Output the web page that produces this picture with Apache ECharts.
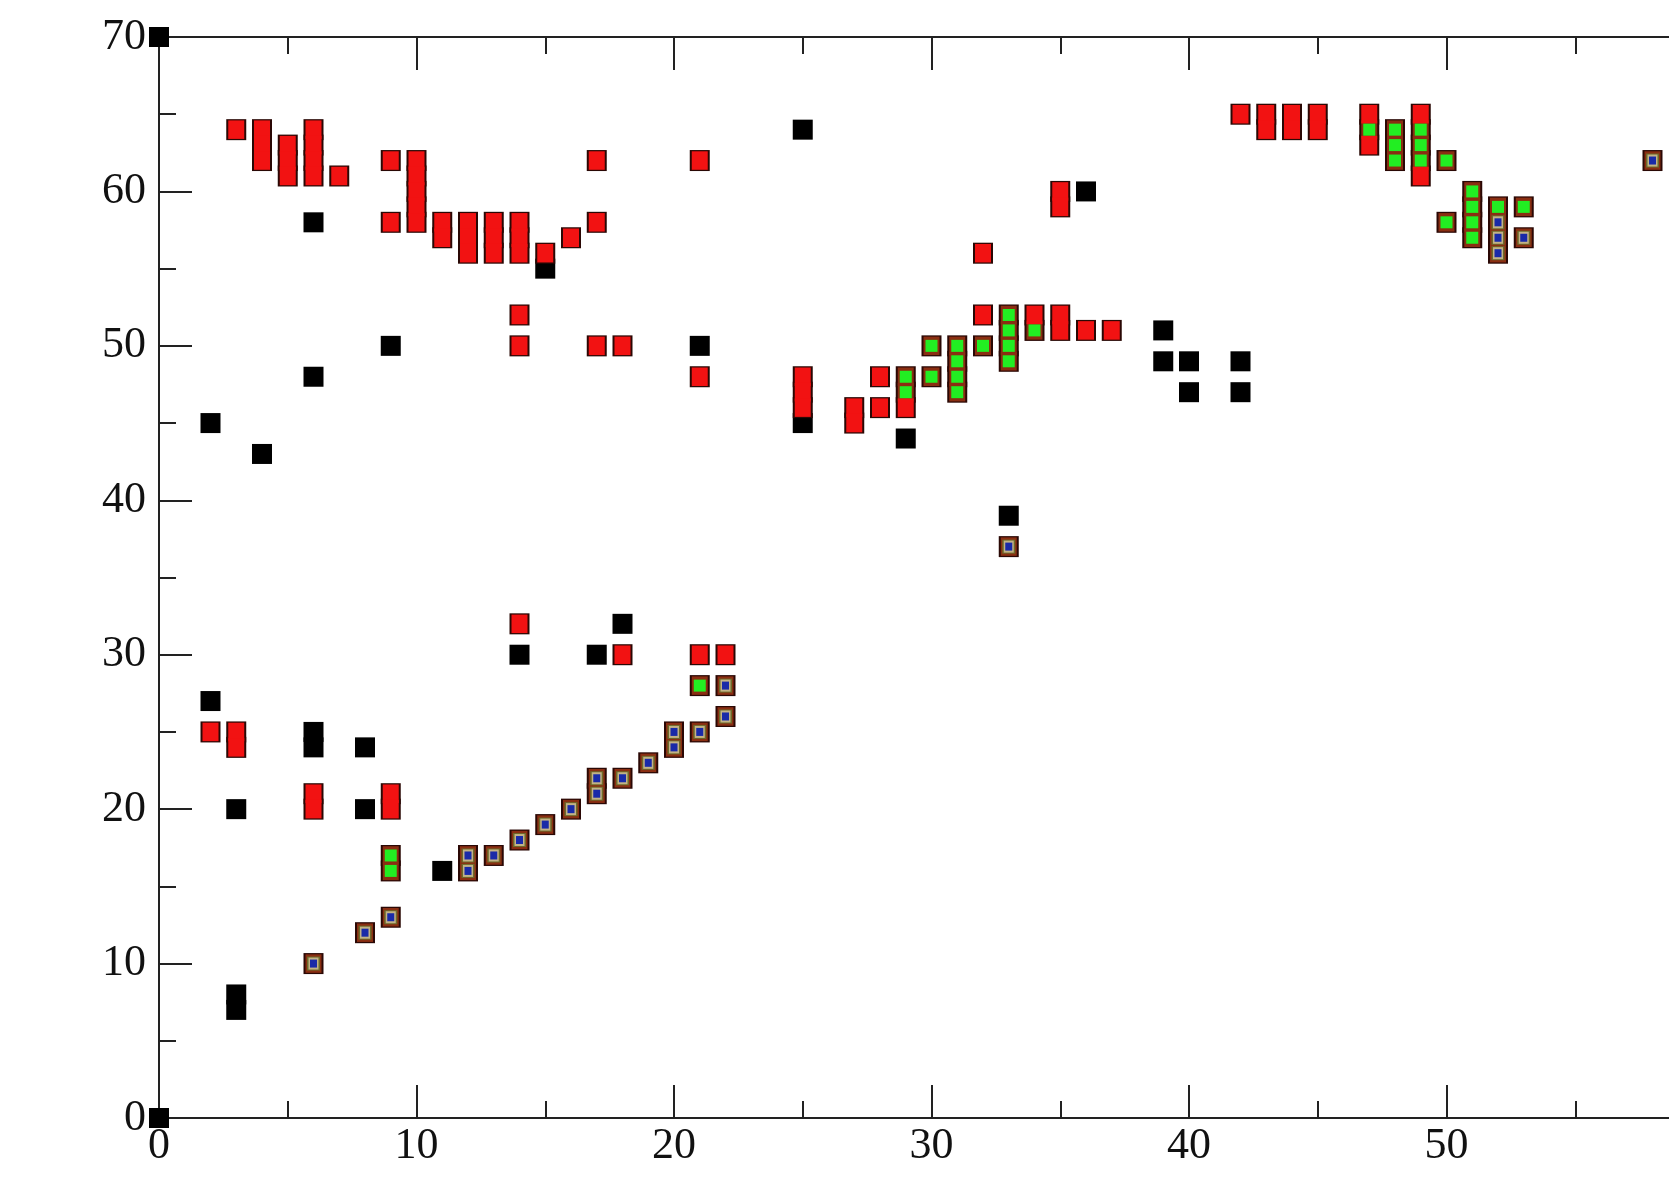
<!DOCTYPE html>
<html>
<head>
<meta charset="utf-8">
<script src="https://cdn.jsdelivr.net/npm/echarts@6/dist/echarts.min.js"></script>
<style>
html,body{margin:0;padding:0;background:#fff;}
#chart{width:1669px;height:1184px;}
</style>
</head>
<body>
<div id="chart"></div>
<script>
// ---- data (x = residue i, y = residue j) ----
const xTicks = [0, 10, 20, 30, 40, 50, 60];
const yTicks = [0, 10, 20, 30, 40, 50, 60, 70];

const blackPts = [
  [0,70],[0,0],
  [2,45],[2,27],
  [3,20],[3,8],[3,7],
  [4,43],
  [6,58],[6,48],[6,25],[6,24],
  [8,24],[8,20],
  [9,50],
  [11,16],
  [14,30],
  [15,55],
  [17,30],
  [18,32],
  [21,50],
  [25,64],[25,45],
  [29,44],
  [33,39],
  [36,60],
  [39,51],[39,49],
  [40,49],[40,47],
  [42,49],[42,47]
];

const redPts = [
  [2,25],
  [3,64],[3,25],[3,24],
  [4,64],[4,63],[4,62],
  [5,63],[5,62],[5,61],
  [6,64],[6,63],[6,62],[6,61],[6,21],[6,20],
  [7,61],
  [9,62],[9,58],[9,21],[9,20],
  [10,62],[10,61],[10,60],[10,59],[10,58],
  [11,58],[11,57],
  [12,58],[12,57],[12,56],
  [13,58],[13,57],[13,56],
  [14,58],[14,57],[14,56],[14,52],[14,50],[14,32],
  [15,56],
  [16,57],
  [17,62],[17,58],[17,50],
  [18,50],[18,30],
  [21,62],[21,48],[21,30],
  [22,30],
  [25,48],[25,47],[25,46],
  [27,46],[27,45],
  [28,48],[28,46],
  [29,46],
  [32,56],[32,52],
  [34,52],
  [35,60],[35,59],[35,52],[35,51],
  [36,51],
  [37,51],
  [42,65],
  [43,65],[43,64],
  [44,65],[44,64],
  [45,65],[45,64],
  [47,65],[47,63],
  [49,65],[49,61]
];

const greenPts = [
  [9,17],[9,16],
  [21,28],
  [29,48],[29,47],
  [30,50],[30,48],
  [31,50],[31,49],[31,48],[31,47],
  [32,50],
  [33,52],[33,51],[33,50],[33,49],
  [34,51],
  [47,64],
  [48,64],[48,63],[48,62],
  [49,64],[49,63],[49,62],
  [50,62],[50,58],
  [51,60],[51,59],[51,58],[51,57],
  [52,59],
  [53,59]
];

const bluePts = [
  [6,10],[8,12],[9,13],
  [12,17],[12,16],[13,17],[14,18],[15,19],[16,20],
  [17,22],[17,21],[18,22],[19,23],[20,25],[20,24],[21,25],[22,28],[22,26],
  [33,37],
  [52,58],[52,57],[52,56],[53,57],
  [58,62]
];

// ---- chart ----
const allColored = redPts.concat(greenPts, bluePts);
const greenAndBlue = greenPts.concat(bluePts);

function layer(name, data, size, color, clip) {
  return {
    name: name, type: 'scatter', data: data,
    symbol: 'rect', symbolSize: size,
    itemStyle: { color: color, opacity: 1, borderWidth: 0 },
    clip: clip, silent: true, animation: false,
    emphasis: { disabled: true }
  };
}

const axisColor = '#222';
const labelFont = { fontFamily: 'Liberation Serif', fontSize: 44, color: '#111' };

function xAxisDef(pos, showLabel) {
  return {
    type: 'value', position: pos, min: xTicks[0], max: xTicks[xTicks.length - 1], interval: 10,
    axisLine: { show: true, onZero: false, lineStyle: { color: axisColor, width: 2 } },
    axisTick: { show: true, inside: true, length: 33, lineStyle: { color: axisColor, width: 2 } },
    minorTick: { show: true, splitNumber: 2, length: 17, lineStyle: { color: axisColor, width: 2 } },
    splitLine: { show: false }, minorSplitLine: { show: false },
    axisLabel: Object.assign({ show: showLabel, margin: 6, showMinLabel: true, showMaxLabel: true }, labelFont)
  };
}
function yAxisDef(pos, showLabel) {
  return {
    type: 'value', position: pos, min: yTicks[0], max: yTicks[yTicks.length - 1], interval: 10,
    axisLine: { show: true, onZero: false, lineStyle: { color: axisColor, width: 2 } },
    axisTick: { show: true, inside: true, length: 33, lineStyle: { color: axisColor, width: 2 } },
    minorTick: { show: true, splitNumber: 2, length: 17, lineStyle: { color: axisColor, width: 2 } },
    splitLine: { show: false }, minorSplitLine: { show: false },
    axisLabel: Object.assign({ show: showLabel, margin: 13, showMinLabel: true, showMaxLabel: true }, labelFont)
  };
}

const chart = echarts.init(document.getElementById('chart'), null, { renderer: 'canvas' });
chart.setOption({
  animation: false,
  backgroundColor: '#ffffff',
  grid: { left: 159, top: 37, width: 1545, height: 1081, containLabel: false, outerBoundsMode: 'none' },
  xAxis: [xAxisDef('bottom', true), xAxisDef('top', false)],
  yAxis: [yAxisDef('left', true), yAxisDef('right', false)],
  series: [
    layer('black', blackPts, [20, 20], '#000000', false),
    layer('outline', allColored, [20, 21], '#2a0805', true),
    layer('brownFill', greenAndBlue, [16, 18.5], '#8a2e12', true),
    layer('redFill', redPts, [16, 18.5], '#f21212', true),
    layer('green', greenPts, [12, 12], '#22ee22', true),
    layer('olive', bluePts, [13, 14], '#6d6a2a', true),
    layer('tan', bluePts, [10, 12], '#c2b286', true),
    layer('blue', bluePts, [7, 8], '#1a2aa8', true)
  ]
});
</script>
</body>
</html>
